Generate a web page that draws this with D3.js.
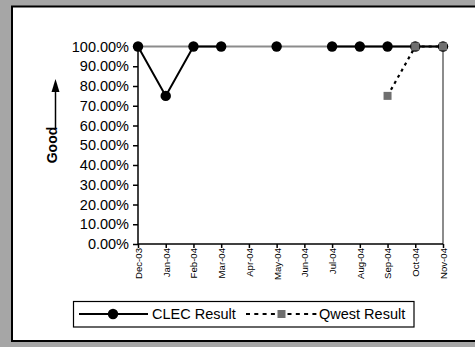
<!DOCTYPE html>
<html><head><meta charset="utf-8">
<script src="https://cdn.jsdelivr.net/npm/d3@7"></script>
<style>body{margin:0;background:#a6a6a6}svg{display:block}text{font-family:Arial,"Liberation Sans",sans-serif}</style>
</head><body><svg id="c" width="475" height="347"></svg>
<script>
const months = ["Dec-03","Jan-04","Feb-04","Mar-04","Apr-04","May-04","Jun-04","Jul-04","Aug-04","Sep-04","Oct-04","Nov-04"];
const clecValues = [100,75,100,100,null,100,null,100,100,100,100,100];
const qwestValues = [null,null,null,null,null,null,null,null,null,75,100,100];
const yTicks = [0,10,20,30,40,50,60,70,80,90,100];
const seriesNames = ["CLEC Result","Qwest Result"];

const svg = d3.select("#c");
svg.append("rect").attr("width",475).attr("height",347).attr("fill","#a6a6a6");
svg.append("rect").attr("x",12).attr("y",6.5).attr("width",470).attr("height",334.5)
  .attr("fill","#fff").attr("stroke","#000").attr("stroke-width",2);

const x = d3.scalePoint().domain(months).range([138,443]);
const y = d3.scaleLinear().domain([0,100]).range([244,46.5]);

// plot border (gray top/right)
svg.append("path").attr("d",`M${x.range()[0]},${y(100)}H${x.range()[1]}V${y(0)}`)
  .attr("fill","none").attr("stroke","#8c8c8c").attr("stroke-width",2);

// y axis
const ya = svg.append("g").attr("transform",`translate(${x.range()[0]},0)`)
  .call(d3.axisLeft(y).tickValues(yTicks).tickSize(5).tickPadding(4).tickFormat(d=>d3.format(".2f")(d)+"%"));
ya.selectAll("text").attr("font-size","14.5px").attr("fill","#000");
ya.selectAll("line,path").attr("stroke","#000").attr("stroke-width",1.5);
ya.select(".domain").attr("d",`M0,${y(0)}V${y(100)}`);

// x axis
const xa = svg.append("g").attr("transform",`translate(0,${y(0)})`)
  .call(d3.axisBottom(x).tickSize(4).tickSizeOuter(0));
xa.selectAll("line,path").attr("stroke","#000").attr("stroke-width",1.5);
xa.select(".domain").attr("d",`M${x.range()[0]},0H${x.range()[1]}`);
xa.selectAll("text").attr("font-size","9.6px").attr("fill","#000")
  .attr("transform","rotate(-90)").attr("text-anchor","end")
  .attr("x",-4).attr("y",0).attr("dy","0.35em");

// Good label + arrow
svg.append("text").attr("transform","translate(57,145) rotate(-90)")
  .attr("text-anchor","middle").attr("font-size","14px").attr("font-weight","bold").text("Good");
svg.append("line").attr("x1",55.5).attr("x2",55.5).attr("y1",128).attr("y2",90)
  .attr("stroke","#000").attr("stroke-width",1.5);
svg.append("path").attr("d","M55.5,79L51.5,92L59.5,92Z").attr("fill","#000");

// series
const line = d3.line().defined(d=>d.v!=null).x(d=>x(d.m)).y(d=>y(d.v));
const clec = months.map((m,i)=>({m,v:clecValues[i]}));
const qwest = months.map((m,i)=>({m,v:qwestValues[i]}));
svg.append("path").attr("d",line(clec)).attr("fill","none").attr("stroke","#000").attr("stroke-width",2);
svg.append("path").attr("d",line(qwest)).attr("fill","none").attr("stroke","#000").attr("stroke-width",2.2)
  .attr("stroke-dasharray","3,4");
svg.selectAll("circle.clec").data(clec.filter(d=>d.v!=null)).join("circle")
  .attr("cx",d=>x(d.m)).attr("cy",d=>y(d.v)).attr("r",5.2).attr("fill","#000");
svg.selectAll("rect.qw").data(qwest.filter(d=>d.v!=null)).join("rect")
  .attr("x",d=>x(d.m)-4).attr("y",d=>y(d.v)-4).attr("width",8).attr("height",8).attr("fill","#6f6f6f");

// legend
const lg = svg.append("g");
lg.append("rect").attr("x",73.5).attr("y",301.5).attr("width",340.5).attr("height",25.5)
  .attr("fill","#fff").attr("stroke","#000").attr("stroke-width",1.2);
lg.append("line").attr("x1",79).attr("x2",148).attr("y1",314).attr("y2",314).attr("stroke","#000").attr("stroke-width",2);
lg.append("circle").attr("cx",113).attr("cy",314).attr("r",5.2).attr("fill","#000");
lg.append("text").attr("x",152).attr("y",314).attr("dy","0.36em").attr("font-size","14.5px").text(seriesNames[0]);
lg.append("line").attr("x1",246).attr("x2",318).attr("y1",314).attr("y2",314).attr("stroke","#000").attr("stroke-width",2)
  .attr("stroke-dasharray","4,4.3");
lg.append("rect").attr("x",277.5).attr("y",310).attr("width",8).attr("height",8).attr("fill","#6f6f6f");
lg.append("text").attr("x",319).attr("y",314).attr("dy","0.36em").attr("font-size","14.5px").text(seriesNames[1]);
</script></body></html>
